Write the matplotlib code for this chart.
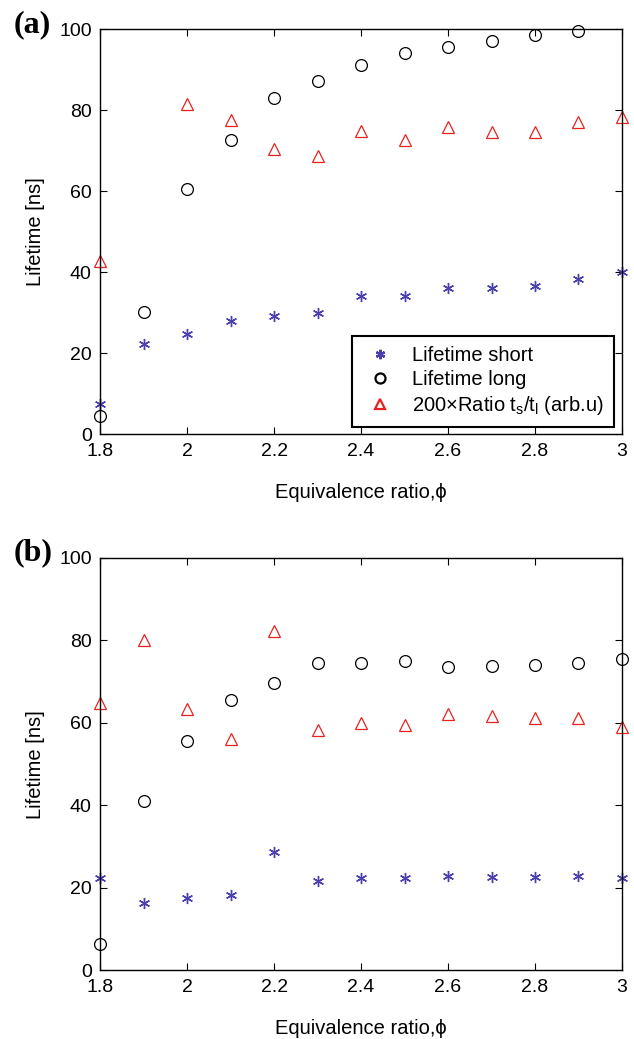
import numpy as np
import matplotlib
matplotlib.use("Agg")
import matplotlib.pyplot as plt

plt.rcParams['font.family'] = ['Liberation Sans', 'DejaVu Sans']
plt.rcParams['mathtext.fontset'] = 'custom'
plt.rcParams['mathtext.rm'] = 'Liberation Sans'
plt.rcParams['mathtext.it'] = 'Liberation Sans'

phi = [1.8, 1.9, 2.0, 2.1, 2.2, 2.3, 2.4, 2.5, 2.6, 2.7, 2.8, 2.9, 3.0]

# panel (a)
short_a = [7.5, 22.3, 24.7, 28.0, 29.2, 29.9, 34.1, 34.1, 36.1, 36.1, 36.6, 38.3, 40.1]
long_a = [4.5, 30.2, 60.6, 72.7, 83.0, 87.2, 91.2, 94.1, 95.6, 97.0, 98.6, 99.6, np.nan]
ratio_a = [42.8, np.nan, 81.6, 77.5, 70.5, 68.6, 74.9, 72.7, 75.8, 74.7, 74.6, 77.1, 78.4]

# panel (b)
short_b = [22.3, 16.4, 17.6, 18.4, 28.6, 21.7, 22.4, 22.4, 22.9, 22.7, 22.6, 22.8, 22.3]
long_b = [6.3, 41.0, 55.5, 65.6, 69.8, 74.6, 74.5, 75.0, 73.6, 73.8, 74.0, 74.5, 75.4]
ratio_b = [64.8, 80.1, 63.4, 56.2, 82.3, 58.3, 60.1, 59.6, 62.2, 61.6, 61.1, 61.2, 59.1]

xticks = [1.8, 2.0, 2.2, 2.4, 2.6, 2.8, 3.0]
xticklabels = ['1.8', '2', '2.2', '2.4', '2.6', '2.8', '3']
yticks = [0, 20, 40, 60, 80, 100]

fig = plt.figure(figsize=(6.34, 10.39), dpi=100)
ax_a = fig.add_axes([0.158, 0.582, 0.823, 0.390])
ax_b = fig.add_axes([0.158, 0.066, 0.823, 0.397])

star = (6, 2, 0)
blue = '#4a3fae'
red = '#e8231f'

def draw(ax, s, l, r, tag):
    ax.plot(phi, s, linestyle='none', marker=star, markersize=8, color=blue,
            markeredgecolor=blue, markeredgewidth=1.0, label='Lifetime short', clip_on=False)
    ax.plot(phi, l, linestyle='none', marker='o', markersize=8.5, markerfacecolor='none',
            markeredgecolor='black', markeredgewidth=0.9, label='Lifetime long', clip_on=False)
    ax.plot(phi, r, linestyle='none', marker='^', markersize=9, markerfacecolor='none',
            markeredgecolor=red, markeredgewidth=0.9,
            label='200×Ratio t$_\\mathregular{s}$/t$_\\mathregular{l}$ (arb.u)', clip_on=False)
    ax.set_xlim(1.8, 3.0)
    ax.set_ylim(0, 100)
    ax.set_xticks(xticks)
    ax.set_xticklabels(xticklabels)
    ax.set_yticks(yticks)
    ax.tick_params(direction='in', top=True, right=True, labelsize=14, length=5,
                   width=0.8, pad=6)
    for sp in ax.spines.values():
        sp.set_linewidth(1.0)
    ax.set_xlabel('Equivalence ratio,ϕ', fontsize=14.5, labelpad=17)
    ax.set_ylabel('Lifetime [ns]', fontsize=14.5, labelpad=10)
    ax.text(-0.165, 1.012, tag, transform=ax.transAxes, fontsize=23, fontweight='bold',
            family='Liberation Serif', ha='left', va='center')

draw(ax_a, short_a, long_a, ratio_a, '(a)')
draw(ax_b, short_b, long_b, ratio_b, '(b)')

leg = ax_a.legend(loc='lower right', bbox_to_anchor=(0.985, 0.018), fontsize=14.5,
                  frameon=True, fancybox=False, edgecolor='black', framealpha=1,
                  handletextpad=0.7, borderpad=0.5, labelspacing=0.25, handlelength=1.8,
                  borderaxespad=0, markerscale=0.85)
leg.get_frame().set_linewidth(1.5)
for h in leg.legend_handles:
    h.set_markeredgewidth(1.6)

fig.savefig('out.png', dpi=100)
